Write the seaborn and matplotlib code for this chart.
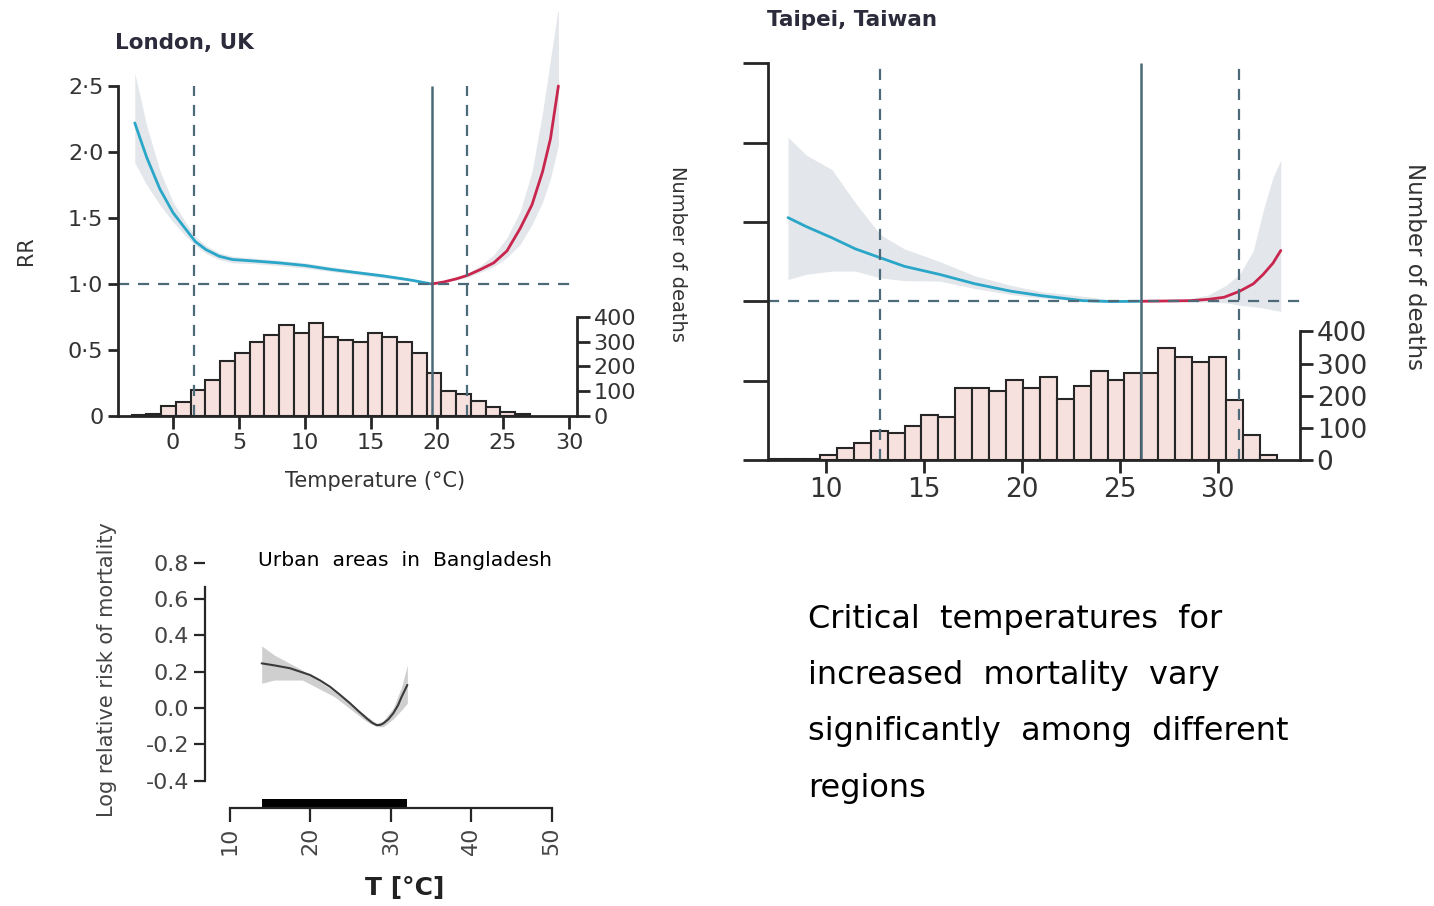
import numpy as np
import pandas as pd
import matplotlib
matplotlib.use('Agg')
import matplotlib.pyplot as plt
import seaborn as sns

# ---------------- London, UK ----------------
london_cold_t = [-2.9, -2.0, -1.0, 0.0, 1.0, 1.7, 2.5, 3.5, 4.5, 6.0, 8.0, 10.0, 12.0, 14.0, 16.0, 18.0, 19.6]
london_cold_rr = [2.22, 1.96, 1.72, 1.54, 1.41, 1.32, 1.26, 1.21, 1.185, 1.175, 1.16, 1.14, 1.11, 1.085, 1.06, 1.03, 1.0]
london_hot_t = [19.6, 20.5, 21.5, 22.3, 23.3, 24.3, 25.3, 26.3, 27.2, 28.0, 28.6, 29.2]
london_hot_rr = [1.0, 1.015, 1.04, 1.065, 1.11, 1.16, 1.25, 1.42, 1.6, 1.85, 2.1, 2.5]
london_ci_t = [-2.9, -2.0, -1.0, 0.0, 1.0, 1.7, 2.5, 3.5, 4.5, 6.0, 8.0, 10.0, 12.0, 14.0, 16.0, 18.0, 19.6,
               20.5, 21.5, 22.3, 23.3, 24.3, 25.3, 26.3, 27.2, 28.0, 28.6, 29.2]
london_ci_low = [1.92, 1.75, 1.6, 1.47, 1.36, 1.29, 1.23, 1.185, 1.16, 1.155, 1.14, 1.12, 1.095, 1.07, 1.045, 1.02, 1.0,
                 1.01, 1.03, 1.05, 1.09, 1.13, 1.2, 1.3, 1.45, 1.62, 1.8, 2.05]
london_ci_high = [2.6, 2.2, 1.86, 1.62, 1.46, 1.36, 1.29, 1.235, 1.21, 1.195, 1.18, 1.16, 1.13, 1.10, 1.075, 1.04, 1.0,
                  1.02, 1.05, 1.08, 1.14, 1.22, 1.35, 1.55, 1.85, 2.3, 2.7, 3.1]
london_bin_start, london_bin_width = -3.13, 1.117
london_deaths = [4, 8, 40, 57, 107, 144, 223, 253, 300, 327, 367, 337, 377, 320, 307, 300, 337, 320, 300, 253,
                 175, 100, 87, 60, 37, 17, 8]
london_cold_thr, london_mmt, london_hot_thr = 1.6, 19.6, 22.3

# ---------------- Taipei, Taiwan ----------------
taipei_cold_t = [8.06, 9.0, 10.3, 11.5, 12.77, 14.0, 15.8, 17.6, 19.45, 21.0, 23.1, 24.5, 26.1]
taipei_cold_rr = [1.527, 1.47, 1.40, 1.33, 1.274, 1.22, 1.169, 1.11, 1.063, 1.035, 1.004, 0.998, 1.0]
taipei_hot_t = [26.1, 27.5, 28.6, 29.5, 30.3, 31.1, 31.8, 32.3, 32.8, 33.2]
taipei_hot_rr = [1.0, 1.002, 1.004, 1.012, 1.025, 1.063, 1.11, 1.169, 1.24, 1.32]
taipei_ci_t = [8.06, 9.0, 10.3, 11.5, 12.77, 14.0, 15.8, 17.6, 19.45, 21.0, 23.1, 24.5, 26.1,
               27.5, 28.6, 29.5, 30.4, 31.1, 31.8, 32.3, 32.8, 33.2]
taipei_ci_low = [1.137, 1.17, 1.19, 1.19, 1.147, 1.13, 1.127, 1.08, 1.042, 1.02, 1.0, 0.998, 1.0,
                 0.998, 0.996, 0.995, 0.99, 0.975, 0.965, 0.958, 0.945, 0.937]
taipei_ci_high = [2.034, 1.92, 1.83, 1.62, 1.42, 1.33, 1.25, 1.16, 1.10, 1.06, 1.032, 1.01, 1.0,
                  1.006, 1.017, 1.04, 1.10, 1.17, 1.32, 1.57, 1.78, 1.89]
taipei_bin_start, taipei_bin_width = 7.1, 0.863
taipei_deaths = [3, 3, 4, 17, 36, 52, 91, 85, 106, 141, 134, 223, 223, 216, 250, 223, 257, 190, 231, 276,
                 250, 270, 270, 348, 320, 304, 320, 187, 78, 15]
taipei_cold_thr, taipei_mmt, taipei_hot_thr = 12.76, 26.07, 31.07

# ---------------- Bangladesh ----------------
bangla_t = [13.94, 15.5, 17.46, 19.95, 21.2, 22.44, 23.7, 24.93, 26.0, 27.0, 27.7, 28.24, 28.7, 29.07, 29.7,
            30.31, 30.9, 31.35, 32.06]
bangla_logrr = [0.246, 0.235, 0.219, 0.182, 0.152, 0.117, 0.072, 0.026, -0.018, -0.057, -0.082, -0.094, -0.093,
                -0.085, -0.062, -0.029, 0.015, 0.062, 0.127]
bangla_ci_t = [13.94, 15.5, 19.0, 23.0, 27.0, 28.24, 29.07, 30.31, 31.35, 32.06]
bangla_ci_low = [0.136, 0.154, 0.154, 0.062, -0.075, -0.103, -0.103, -0.06, -0.011, 0.026]
bangla_ci_high = [0.342, 0.292, 0.209, 0.09, -0.045, -0.085, -0.07, -0.0, 0.117, 0.237]

note_text = "Critical  temperatures  for\nincreased  mortality  vary\nsignificantly  among  different\nregions"

sns.set_style('white')
plt.rcParams['font.family'] = ['DejaVu Sans']

W, H = 1434, 906
fig = plt.figure(figsize=(W / 100, H / 100), dpi=100)


def rect(x0, y0, x1, y1):
    return [x0 / W, 1 - y1 / H, (x1 - x0) / W, (y1 - y0) / H]


BLUE = '#2aa6c8'
RED = '#c9264f'
BAND = '#e3e6ea'
REF = '#4c6a78'
INK = '#262626'
BARFACE = '#f6e1de'


def rr_panel(r, xlim, ylim, dscale, cold_t, cold_rr, hot_t, hot_rr, ci_t, ci_lo, ci_hi,
             bin_start, bin_w, deaths, thr, tick_fs, ylen, show_ylabels):
    ax = fig.add_axes(r)
    ax2 = ax.twinx()
    centers = [bin_start + bin_w * (i + 0.5) for i in range(len(deaths))]
    hist_df = pd.DataFrame({'t': centers, 'n': deaths})
    sns.histplot(data=hist_df, x='t', weights='n', binwidth=bin_w,
                 binrange=(bin_start, bin_start + bin_w * len(deaths)), ax=ax2,
                 facecolor=BARFACE, edgecolor=INK, linewidth=1.5, alpha=1)
    ax2.set_ylim(0, ylim[1] / dscale * 400)
    ax2.set_ylabel('')
    ax.set_zorder(ax2.get_zorder() + 1)
    ax.patch.set_visible(False)

    ax.fill_between(ci_t, ci_lo, ci_hi, color=BAND, lw=0)
    sns.lineplot(x=cold_t, y=cold_rr, color=BLUE, lw=2, ax=ax)
    sns.lineplot(x=hot_t, y=hot_rr, color=RED, lw=2, ax=ax)
    ax.axhline(1.0, color=REF, lw=1.6, ls=(0, (5, 4)))
    ax.vlines([thr[0], thr[2]], 0, 2.5, color=REF, lw=1.6, ls=(0, (5, 4)))
    ax.vlines(thr[1], 0, 2.5, color=REF, lw=1.8)

    ax.set_xlim(*xlim)
    ax.set_ylim(*ylim)
    for a in (ax, ax2):
        for s in a.spines.values():
            s.set_color(INK)
            s.set_linewidth(2)
    ax.spines['top'].set_visible(False)
    ax.spines['right'].set_visible(False)
    ax.spines['left'].set_bounds(0, 2.5)
    ax2.spines['top'].set_visible(False)
    ax2.spines['left'].set_visible(False)
    ax2.spines['bottom'].set_visible(False)
    ax2.spines['right'].set_bounds(0, 400)

    ax.set_yticks([0, 0.5, 1.0, 1.5, 2.0, 2.5])
    if show_ylabels:
        ax.set_yticklabels(['0', '0·5', '1·0', '1·5', '2·0', '2·5'])
    else:
        ax.set_yticklabels([])
    ax.set_xticks([10, 15, 20, 25, 30] if xlim[0] > 5 else [0, 5, 10, 15, 20, 25, 30])
    ax2.set_yticks([0, 100, 200, 300, 400])
    ax.tick_params(axis='y', direction='out', length=ylen, width=2, color=INK,
                   labelsize=tick_fs, labelcolor='#333333', left=True)
    ax.tick_params(axis='x', direction='out', length=9, width=2, color=INK,
                   labelsize=tick_fs, labelcolor='#333333', bottom=True)
    ax2.tick_params(axis='y', direction='out', length=9, width=2, color=INK,
                    labelsize=tick_fs, labelcolor='#333333', right=True, pad=3)
    ax.set_xlabel('')
    ax.set_ylabel('')
    return ax, ax2


# London panel
lx = rect(118, 12, 577, 416)
axL, axL2 = rr_panel(lx, (-4.17, 30.61), (0, 3.06), 0.75,
                     london_cold_t, london_cold_rr, london_hot_t, london_hot_rr,
                     london_ci_t, london_ci_low, london_ci_high,
                     london_bin_start, london_bin_width, london_deaths,
                     (london_cold_thr, london_mmt, london_hot_thr), 16, 7, True)
axL.text(-0.2, 0.41, 'RR', rotation=90, ha='center', va='center', fontsize=15,
         color='#333333', transform=axL.transAxes)
axL.text(0.56, -0.161, 'Temperature (°C)', ha='center', va='center', fontsize=15,
         color='#333333', transform=axL.transAxes)
axL.text(1.22, 0.40, 'Number of deaths', rotation=-90, ha='center', va='center', fontsize=14,
         color='#333333', transform=axL.transAxes)
fig.text(115 / W, 1 - 43 / H, 'London, UK', fontsize=15.5, fontweight='bold', color='#2b2b3b',
         ha='left', va='center')

# Taipei panel
tx = rect(768, 60, 1300, 460)
axT, axT2 = rr_panel(tx, (7.04, 34.18), (0, 2.52), 0.81,
                     taipei_cold_t, taipei_cold_rr, taipei_hot_t, taipei_hot_rr,
                     taipei_ci_t, taipei_ci_low, taipei_ci_high,
                     taipei_bin_start, taipei_bin_width, taipei_deaths,
                     (taipei_cold_thr, taipei_mmt, taipei_hot_thr), 19, 18, False)
axT.text((1415 - 768) / 532, (460 - 266) / 400, 'Number of deaths', rotation=-90,
         ha='center', va='center', fontsize=16.5, color='#333333', transform=axT.transAxes)
fig.text(767 / W, 1 - 20 / H, 'Taipei, Taiwan', fontsize=15.5, fontweight='bold', color='#2b2b3b',
         ha='left', va='center')

# Bangladesh panel
axB = fig.add_axes(rect(205, 555, 556, 808))
axB.fill_between(bangla_ci_t, bangla_ci_low, bangla_ci_high, color='#cfcfcf', lw=0)
sns.lineplot(x=bangla_t, y=bangla_logrr, color='#3a3a3a', lw=1.5, ax=axB)
axB.axvspan(min(bangla_t), max(bangla_t), ymin=0, ymax=0.035, color='black', lw=0)
axB.set_xlim(6.89, 50.55)
axB.set_ylim(-0.551, 0.843)
axB.spines['top'].set_visible(False)
axB.spines['right'].set_visible(False)
axB.spines['left'].set_bounds(-0.4, 0.668)
axB.spines['bottom'].set_bounds(10, 50)
for s in ('left', 'bottom'):
    axB.spines[s].set_color(INK)
    axB.spines[s].set_linewidth(1.6)
axB.set_yticks([-0.4, -0.2, 0.0, 0.2, 0.4, 0.6, 0.8])
axB.set_yticklabels(['-0.4', '-0.2', '0.0', '0.2', '0.4', '0.6', '0.8'])
axB.set_xticks([10, 20, 30, 40, 50])
axB.tick_params(axis='y', direction='out', length=8, width=1.6, color=INK, labelsize=16,
                labelcolor='#444444', left=True)
axB.tick_params(axis='x', direction='out', length=10, width=1.6, color=INK, labelsize=16,
                labelcolor='#444444', labelrotation=90, bottom=True)
axB.set_xlabel('')
axB.set_ylabel('')
axB.text((107 - 205) / 351, (808 - 670) / 253, 'Log relative risk of mortality', rotation=90,
         ha='center', va='center', fontsize=15, color='#444444', transform=axB.transAxes)
axB.text((405 - 205) / 351, (808 - 888) / 253, 'T [°C]', ha='center', va='center',
         fontsize=18, fontweight='bold', color='#222222', transform=axB.transAxes)
fig.text(258 / W, 1 - 561 / H, 'Urban  areas  in  Bangladesh', fontsize=14.6, color='black',
         ha='left', va='center')

fig.text(808 / W, 1 - 604 / H, note_text, fontsize=23, color='black', ha='left', va='top',
         linespacing=2.05)

fig.savefig('out.png', dpi=100)
